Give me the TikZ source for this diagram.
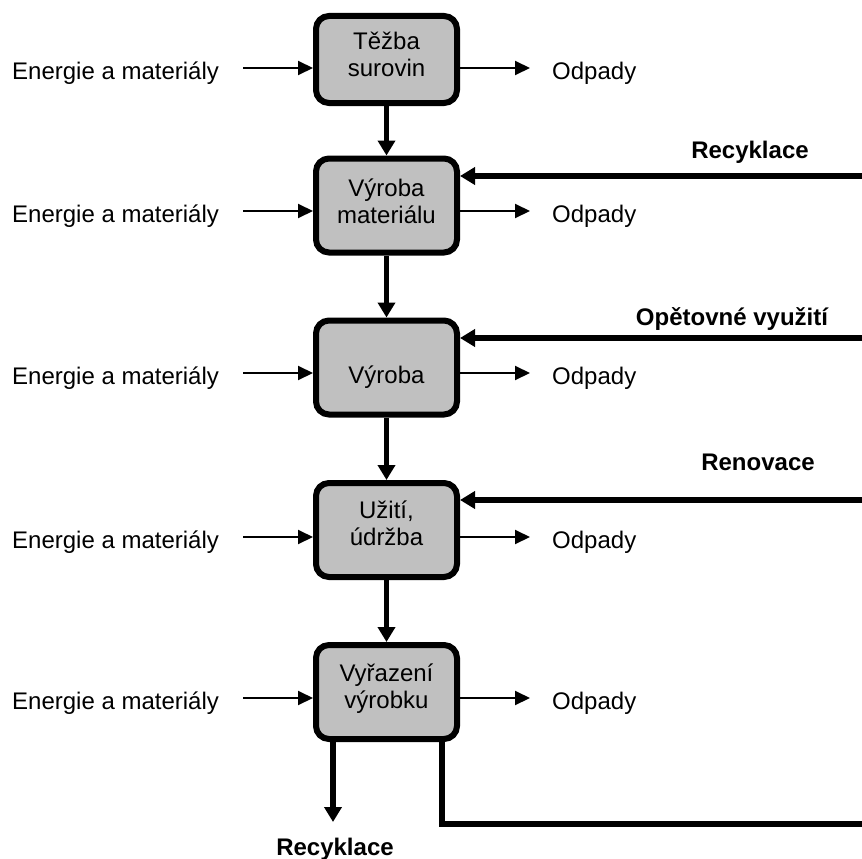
\documentclass[tikz,border=0pt]{standalone}
\usepackage{fontspec}
\setmainfont{Liberation Sans}
\usetikzlibrary{arrows.meta}
\definecolor{boxgray}{RGB}{192,192,192}
\begin{document}
\begin{tikzpicture}[x=1pt,y=-1pt,
  every node/.style={font=\fontsize{24}{27}\selectfont},
  procbox/.style={draw=black,fill=boxgray,line width=6pt,rounded corners=13pt,
    minimum width=141pt,minimum height=94pt,inner sep=0pt},
  proctext/.style={align=center,anchor=base,inner sep=0pt},
  sidetext/.style={anchor=base west,inner sep=0pt},
  flowlabel/.style={anchor=base,inner sep=0pt,font=\fontsize{24}{27}\selectfont\bfseries},
  thinarrow/.style={line width=2pt,-{Triangle[length=15pt,width=14pt]}},
  thickarrow/.style={line width=5.5pt,-{Triangle[length=15pt,width=17pt]}},
  thickline/.style={line width=5.5pt,line join=miter}]
\useasboundingbox (0,0) rectangle (862,859);

% process boxes
\node[procbox,minimum height=87pt] (b1) at (386.5,59.5) {};
\node[procbox] (b2) at (386.5,205.5) {};
\node[procbox] (b3) at (386.5,367.5) {};
\node[procbox] (b4) at (386.5,530) {};
\node[procbox] (b5) at (386.5,692) {};

% (base anchor of a two-line node = baseline of its last line)
\node[proctext] (t1) at (386.5,77) {Těžba\\surovin};
\node[proctext] (t2) at (386.5,223) {Výroba\\materiálu};
\node[proctext] (t3) at (386.5,383) {Výroba};
\node[proctext] (t4) at (386.5,545) {Užití,\\údržba};
\node[proctext] (t5) at (386.5,708) {Vyřazení\\výrobku};

% main flow
\draw[thickarrow] (b1) -- (b2);
\draw[thickarrow] (b2) -- (b3);
\draw[thickarrow] (b3) -- (b4);
\draw[thickarrow] (b4) -- (b5);

% inputs and wastes
\foreach \i/\y in {1/68,2/211,3/373,4/537,5/698}{
  \node[sidetext] (e\i) at (12,\y+11) {Energie a materiály};
  \node[sidetext] (o\i) at (552,\y+11) {Odpady};
  \coordinate (l\i) at (243,\y);
  \coordinate (r\i) at (530,\y);
  \draw[thinarrow] (l\i) -- (l\i -| b\i.west);
  \draw[thinarrow] (r\i -| b\i.east) -- (r\i);
}

% feedback loops
\coordinate (f2) at (862,176);
\coordinate (f3) at (862,338);
\coordinate (f4) at (862,500);
\draw[thickarrow] (f2) -- (f2 -| b2.east);
\draw[thickarrow] (f3) -- (f3 -| b3.east);
\draw[thickarrow] (f4) -- (f4 -| b4.east);
\node[flowlabel] (lr) at (750,158) {Recyklace};
\node[flowlabel] (lo) at (732,325) {Opětovné využití};
\node[flowlabel] (lrn) at (758,470) {Renovace};

% outputs of the last stage
\coordinate (d1) at (333,822);
\draw[thickarrow] (d1 |- b5.south) -- (d1);
\node[flowlabel] (lb) at (335,855) {Recyklace};
\coordinate (d2) at (442,824);
\coordinate (d3) at (862,824);
\draw[thickline] (d2 |- b5.south) -- (d2) -- (d3);
\end{tikzpicture}
\end{document}
